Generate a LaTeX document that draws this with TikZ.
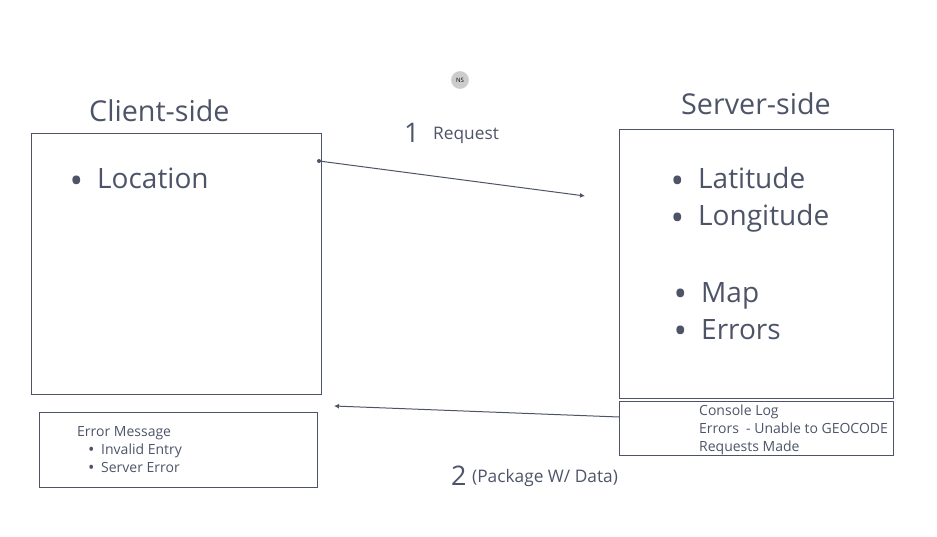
\documentclass[tikz,border=0pt]{standalone}
\usepackage{fontspec}
\setmainfont{Open Sans}
\usepackage{xcolor}
\usetikzlibrary{calc, arrows.meta}

\definecolor{slate}{HTML}{4E5468}
\definecolor{badge}{HTML}{CCCCCC}

\newcommand{\bigdot}{\makebox[25pt][l]{\hspace{-2.5pt}\raisebox{-5pt}{\fontsize{36}{36}\selectfont•}}}
\newcommand{\smalldot}{\makebox[13pt][l]{\raisebox{-1pt}{\fontsize{17}{17}\selectfont•}}}

\tikzset{
    panel/.style={draw=slate, line width=1.1pt, anchor=north west, inner sep=0pt},
    flow/.style={draw=slate, line width=1pt, -{Latex[length=5pt, width=5pt]}},
    heading/.style={anchor=base west, inner sep=0pt, text=slate, font=\fontsize{28.7}{32}\selectfont},
    bigtxt/.style={anchor=base west, inner sep=0pt, text=slate, font=\fontsize{28}{32}\selectfont},
    numtxt/.style={anchor=base west, inner sep=0pt, text=slate, font=\fontsize{27}{30}\selectfont},
    midtxt/.style={anchor=base west, inner sep=0pt, text=slate, font=\fontsize{17.3}{20}\selectfont},
    smalltxt/.style={anchor=base west, inner sep=0pt, text=slate, font=\fontsize{14}{18}\selectfont},
}

\begin{document}
\begin{tikzpicture}[x=1pt, y=-1pt]

    % page size of the reference
    \useasboundingbox (0,0) rectangle (937,537);

    % ==========================================
    % BOXES
    % ==========================================

    \node[panel, minimum width=290.5pt, minimum height=261pt] (client) at (30.5,133) {};
    \node[panel, minimum width=274pt, minimum height=269pt] (server) at (619,129) {};
    \node[panel, minimum width=274pt, minimum height=54pt] (logbox) at (619,401) {};
    \node[panel, minimum width=278pt, minimum height=75pt] (errbox) at (38.5,411.5) {};

    % ==========================================
    % HEADINGS & LISTS
    % ==========================================

    \node[heading] (clienttitle) at (89,122) {Client-side};
    \node[heading] (servertitle) at (681,115) {Server-side};

    \node[bigtxt] (location) at (72,189) {\bigdot Location};
    \node[bigtxt] (latitude) at (673,189) {\bigdot Latitude};
    \node[bigtxt] (longitude) at (673,226) {\bigdot Longitude};
    \node[bigtxt] (map) at (676,302) {\bigdot Map};
    \node[bigtxt] (errors) at (676,339) {\bigdot Errors};

    \node[smalltxt] (console) at (699,415) {Console Log};
    \node[smalltxt] (unable) at (699,433) {Errors~~- Unable to GEOCODE};
    \node[smalltxt] (made) at (699,451) {Requests Made};

    \node[smalltxt] (errmsg) at (77,436) {Error Message};
    \node[smalltxt] (invalid) at (88,454) {\smalldot Invalid Entry};
    \node[smalltxt] (srverr) at (88,472) {\smalldot Server Error};

    % ==========================================
    % BADGE & STEP LABELS
    % ==========================================

    \node[circle, fill=badge, draw=white, line width=1pt, minimum size=19pt, inner sep=0pt,
        font=\fontsize{6}{7}\selectfont] (badge) at (460,80) {NS};

    \node[numtxt] (one) at (404,143) {1};
    \node[midtxt] (request) at (433,140) {Request};
    \node[numtxt] (two) at (451,485) {2};
    \node[midtxt] (package) at (472,482) {(Package W/ Data)};

    % ==========================================
    % ARROWS
    % ==========================================

    \coordinate (reqstart) at (319,161);
    \coordinate (reqend) at (585,196);
    \coordinate (resstart) at ($(logbox.north west)+(0,16)$);
    \coordinate (resend) at (334,406);

    \fill[slate] (reqstart) circle (2pt);
    \draw[flow] (reqstart) -- (reqend);
    \draw[flow] (resstart) -- (resend);

\end{tikzpicture}
\end{document}
